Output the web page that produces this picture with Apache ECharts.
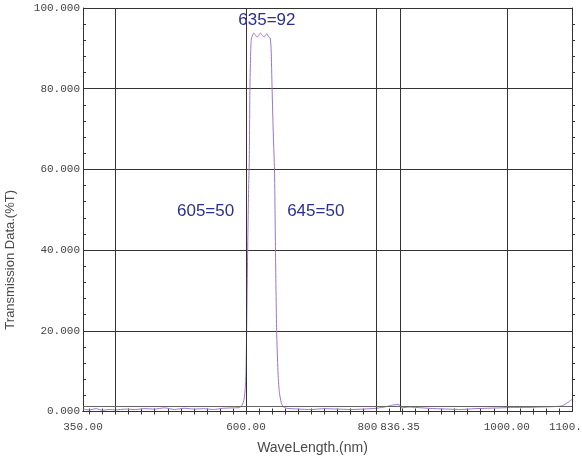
<!DOCTYPE html>
<html>
<head>
<meta charset="utf-8">
<script src="https://cdn.jsdelivr.net/npm/echarts@6/dist/echarts.min.js"></script>
<style>
  html, body { margin: 0; padding: 0; background: #fff; }
  #chart { width: 582px; height: 459px; }
</style>
</head>
<body>
<div id="chart"></div>
<script>
// wavelength (nm) and transmission (%T)
const wavelengths = [350, 360, 370, 380, 390, 400, 415, 430, 445, 460, 475, 490, 505, 520, 535, 550, 565, 580, 590,
  594, 597, 599, 600, 601, 602, 603, 604, 605, 606, 607, 608, 610, 612, 614, 617, 619.5, 622, 625, 628, 630, 632, 635,
  637, 638.5, 640, 642, 643.7, 644.5, 645.2, 647, 649, 651, 654, 657, 662, 680, 700, 720, 740, 760, 780, 800, 815, 825,
  835, 838, 850, 870, 890, 910, 930, 950, 970, 990, 1010, 1030, 1050, 1070, 1085, 1095, 1100];
const transmission = [0.6, 0.4, 0.7, 0.3, 0.5, 0.4, 0.6, 0.5, 0.7, 0.6, 0.9, 0.5, 0.8, 0.6, 0.7, 0.5, 0.8, 0.9, 1.0,
  1.6, 3, 6, 10, 20, 33, 45, 55, 62, 80, 88, 92, 93.3, 93.8, 93.4, 92.8, 93.2, 93.8, 93.2, 92.8, 93.3, 93.6, 92.8,
  92.6, 90, 80, 68, 60, 50, 40, 20, 10, 5, 2.2, 1.2, 0.8, 0.6, 0.5, 0.7, 0.6, 0.5, 0.6, 0.8, 1.2, 1.6,
  1.7, 0.9, 1.1, 0.9, 0.7, 0.6, 0.5, 0.7, 0.8, 0.9, 1.0, 1.0, 1.1, 1.2, 1.4, 2.4, 3];

const xLabelValues = [350, 600, 800, 836.35, 1000, 1100];
const xGridLines = [400, 600, 800, 836.35, 1000];
const xMinorTicks = [];
for (let v = 360; v < 1100; v += 20) xMinorTicks.push(v);
const baseLine = 1.3;

// peak / edge notes: [text, wavelength, %T]
const notes = [
  ['635=92', 632, 97],
  ['605=50', 538, 49.5],
  ['645=50', 707, 49.5]
];

const chart = echarts.init(document.getElementById('chart'));

const fmtX = v => {
  if (v === 800) return '{l|800}';
  if (v === 836.35) return '{r|836.35}';
  return v.toFixed(2);
};

const option = {
  animation: false,
  grid: { left: 83, right: 10, top: 8, bottom: 47.5, outerBoundsMode: 'none', containLabel: false },
  xAxis: [
    {
      type: 'value', min: 350, max: 1100,
      name: 'WaveLength.(nm)', nameLocation: 'middle', nameGap: 30,
      nameTextStyle: { fontFamily: 'Liberation Sans', fontSize: 14, color: '#4a4a4a', padding: [0, 30, 0, 0] },
      axisLine: { show: true, lineStyle: { color: '#333', width: 1 } },
      axisTick: { show: true, inside: true, length: 3, customValues: xMinorTicks, lineStyle: { color: '#333' } },
      axisLabel: {
        customValues: xLabelValues, formatter: fmtX, margin: 10, hideOverlap: false,
        fontFamily: 'Liberation Mono', fontSize: 11, color: '#444',
        rich: {
          l: { fontFamily: 'Liberation Mono', fontSize: 11, color: '#444', padding: [0, 18, 0, 0] },
          r: { fontFamily: 'Liberation Mono', fontSize: 11, color: '#444', padding: [0, 0, 0, 0] }
        }
      },
      splitLine: { show: false }
    },
    {
      type: 'value', min: 350, max: 1100, position: 'top',
      axisLine: { show: true, lineStyle: { color: '#333', width: 1 } },
      axisTick: { show: true, inside: true, length: 3, customValues: xMinorTicks, lineStyle: { color: '#333' } },
      axisLabel: { show: false },
      splitLine: { show: false }
    }
  ],
  yAxis: [
    {
      type: 'value', min: 0, max: 100, interval: 20,
      axisLine: { show: true, lineStyle: { color: '#333', width: 1 } },
      axisTick: { show: true, inside: true, length: 4, lineStyle: { color: '#333' } },
      minorTick: { show: true, splitNumber: 5, length: 3, lineStyle: { color: '#333' } },
      axisLabel: {
        formatter: v => v.toFixed(3), margin: 3,
        fontFamily: 'Liberation Mono', fontSize: 11, color: '#444'
      },
      splitLine: { show: true, lineStyle: { color: '#333', width: 1 } }
    },
    {
      type: 'value', min: 0, max: 100, interval: 20, position: 'right',
      axisLine: { show: true, lineStyle: { color: '#333', width: 1 } },
      axisTick: { show: false },
      minorTick: { show: true, splitNumber: 5, length: 3, lineStyle: { color: '#333' } },
      axisLabel: { show: false },
      splitLine: { show: false }
    }
  ],
  graphic: [
    {
      type: 'text', left: 4, top: 190, rotation: Math.PI / 2, originX: 0, originY: 0,
      style: { text: 'Transmission Data.(%T)', fontFamily: 'Liberation Sans', fontSize: 13, fill: '#4a4a4a' }
    }
  ],
  series: [
    {
      type: 'line',
      data: wavelengths.map((w, i) => [w, transmission[i]]),
      showSymbol: false,
      smooth: 0.2,
      lineStyle: { color: '#9e72cf', width: 1 },
      markLine: {
        silent: true, symbol: 'none', label: { show: false },
        lineStyle: { color: '#333', width: 1, type: 'solid' },
        data: [
          ...xGridLines.map(v => ({ xAxis: v })),
          { yAxis: baseLine, lineStyle: { color: '#666', width: 1, type: 'solid' } }
        ]
      },
      markPoint: {
        silent: true, symbol: 'circle', symbolSize: 0,
        label: {
          show: true, position: 'inside', formatter: p => p.name,
          fontFamily: 'Liberation Sans', fontSize: 17, color: '#2b2f8f'
        },
        data: notes.map(n => ({ name: n[0], coord: [n[1], n[2]] }))
      }
    }
  ]
};

chart.setOption(option);
</script>
</body>
</html>
